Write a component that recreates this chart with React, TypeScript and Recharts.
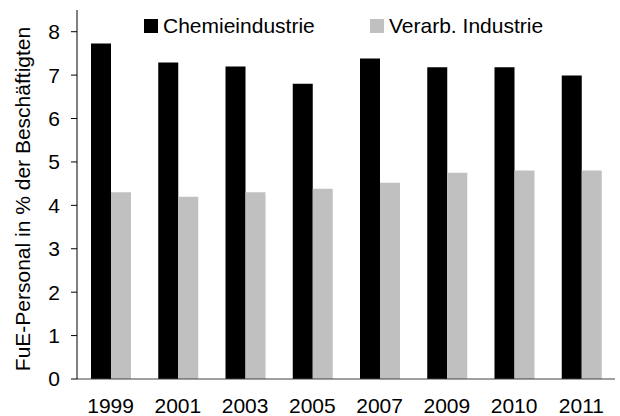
import { BarChart, Bar, XAxis, YAxis, Legend } from 'recharts';

const years = ['1999', '2001', '2003', '2005', '2007', '2009', '2010', '2011'];
const chemie = [7.73, 7.29, 7.2, 6.8, 7.38, 7.18, 7.18, 6.99];
const verarb = [4.3, 4.2, 4.3, 4.38, 4.52, 4.75, 4.8, 4.8];
const yTicks = [0, 1, 2, 3, 4, 5, 6, 7, 8];

const data = years.map((year, i) => ({ year, chemie: chemie[i], verarb: verarb[i] }));

const font = '"Liberation Sans", Arial, sans-serif';

function ChartLegend() {
  const items = [
    { label: 'Chemieindustrie', color: '#000000', left: 0 },
    { label: 'Verarb. Industrie', color: '#c0c0c0', left: 226 },
  ];
  return (
    <div style={{ position: 'relative', height: 24, fontFamily: font, fontSize: 21, color: '#000' }}>
      {items.map((it) => (
        <div key={it.label} style={{ position: 'absolute', left: it.left, top: 0, display: 'flex', alignItems: 'center', whiteSpace: 'nowrap' }}>
          <span style={{ display: 'inline-block', width: 14, height: 14, background: it.color, marginRight: 5 }} />
          <span>{it.label}</span>
        </div>
      ))}
    </div>
  );
}

function YLabel() {
  return (
    <text
      x={22}
      y={199}
      transform="rotate(-90, 22, 199)"
      textAnchor="middle"
      dominantBaseline="central"
      fontFamily={font}
      fontSize={21}
      fill="#000"
    >
      FuE-Personal in % der Beschäftigten
    </text>
  );
}

export default function App() {
  return (
    <div style={{ position: 'absolute', left: 0, top: 0, width: 620, height: 416, background: '#fff' }}>
      <BarChart
        width={620}
        height={416}
        data={data}
        margin={{ top: 10, right: 5, bottom: 0, left: 0 }}
        barSize={20}
        barGap={0}
      >
        <XAxis
          dataKey="year"
          height={37}
          tickLine={false}
          tickSize={0}
          tickMargin={19}
          axisLine={{ stroke: '#404040', strokeWidth: 1 }}
          tick={{ fill: '#000', fontSize: 21, fontFamily: font }}
          interval={0}
        />
        <YAxis
          width={77}
          domain={[0, 8.5]}
          ticks={yTicks}
          allowDataOverflow
          tickSize={6}
          tickMargin={11}
          axisLine={{ stroke: '#000', strokeWidth: 1 }}
          tickLine={{ stroke: '#000', strokeWidth: 1 }}
          tick={{ fill: '#000', fontSize: 21, fontFamily: font }}
          label={<YLabel />}
        />
        <Legend
          layout="horizontal"
          verticalAlign="middle"
          align="center"
          wrapperStyle={{ top: 14, left: 144, width: 440, height: 24 }}
          content={() => <ChartLegend />}
        />
        <Bar dataKey="chemie" fill="#000000" isAnimationActive={false} />
        <Bar dataKey="verarb" fill="#c0c0c0" isAnimationActive={false} />
      </BarChart>
    </div>
  );
}
